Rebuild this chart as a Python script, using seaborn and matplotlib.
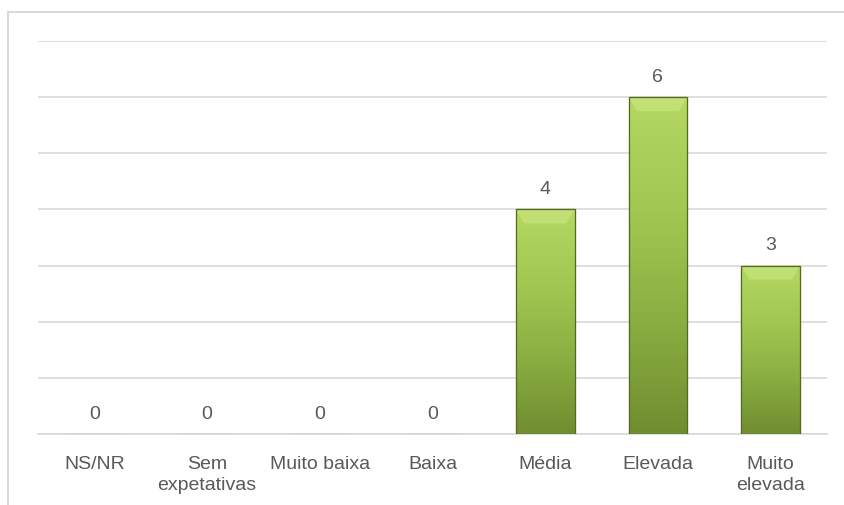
import numpy as np
import pandas as pd
import matplotlib.pyplot as plt
import seaborn as sns
from matplotlib.colors import LinearSegmentedColormap
from matplotlib.patches import Rectangle

categorias = ['NS/NR', 'Sem\nexpetativas', 'Muito baixa', 'Baixa', 'Média', 'Elevada', 'Muito\nelevada']
valores = [0, 0, 0, 0, 4, 6, 3]

df = pd.DataFrame({'cat': categorias, 'val': valores})

sns.set_style('white')
plt.rcParams['font.family'] = ['Liberation Sans', 'DejaVu Sans']

fig = plt.figure(figsize=(8.44, 5.05), dpi=100)
ax = fig.add_axes([38 / 844, 1 - 434 / 505, 789 / 844, (434 - 41) / 505])

# moldura exterior
fig.patches.append(Rectangle((8 / 844, -0.1), 1.2, 1 - 12 / 505 + 0.1, transform=fig.transFigure,
                             fill=False, edgecolor='#d9d9d9', linewidth=1.5))

sns.barplot(data=df, x='cat', y='val', ax=ax, color='#9bbb59', width=0.52,
            edgecolor='#5a7025', linewidth=0.8, zorder=3)

# gradiente nas barras
cmap = LinearSegmentedColormap.from_list('verde', ['#708d30', '#8aae41', '#a2c852', '#b4d862'])
grad = np.linspace(0, 1, 256).reshape(-1, 1)
for p in ax.patches:
    h = p.get_height()
    if h <= 0:
        continue
    x0, w = p.get_x(), p.get_width()
    im = ax.imshow(grad, extent=[x0, x0 + w, 0, h], origin='lower', cmap=cmap,
                   aspect='auto', zorder=3.5)
    im.set_clip_path(p)
    # bisel no topo
    ax.add_patch(plt.Polygon([[x0, h], [x0 + w, h], [x0 + w * 0.86, h - 0.25], [x0 + w * 0.14, h - 0.25]],
                             closed=True, facecolor='#c6e47c', edgecolor='none', alpha=0.75, zorder=3.6))
    ax.add_patch(Rectangle((x0, 0), w, h, fill=False, edgecolor='#55691f', linewidth=0.9, zorder=3.7))

for i, v in enumerate(valores):
    ax.text(i, v + 0.2, str(v), ha='center', va='bottom', fontsize=14, color='#595959')

ax.set_ylim(0, 7)
ax.set_xlim(-0.5, len(categorias) - 0.5)
ax.set_yticks(range(0, 8))
ax.yaxis.grid(True, color='#d9d9d9', linewidth=1.2)
ax.set_axisbelow(True)
ax.set_yticklabels([])
ax.tick_params(axis='y', length=0)
ax.tick_params(axis='x', length=0, labelsize=14, labelcolor='#595959', pad=16)
ax.set_xlabel('')
ax.set_ylabel('')
for s in ['top', 'right', 'left']:
    ax.spines[s].set_visible(False)
ax.spines['bottom'].set_color('#d9d9d9')
ax.spines['bottom'].set_linewidth(1.2)
for lbl in ax.get_xticklabels():
    lbl.set_linespacing(1.3)

fig.savefig('out.png', dpi=100)
